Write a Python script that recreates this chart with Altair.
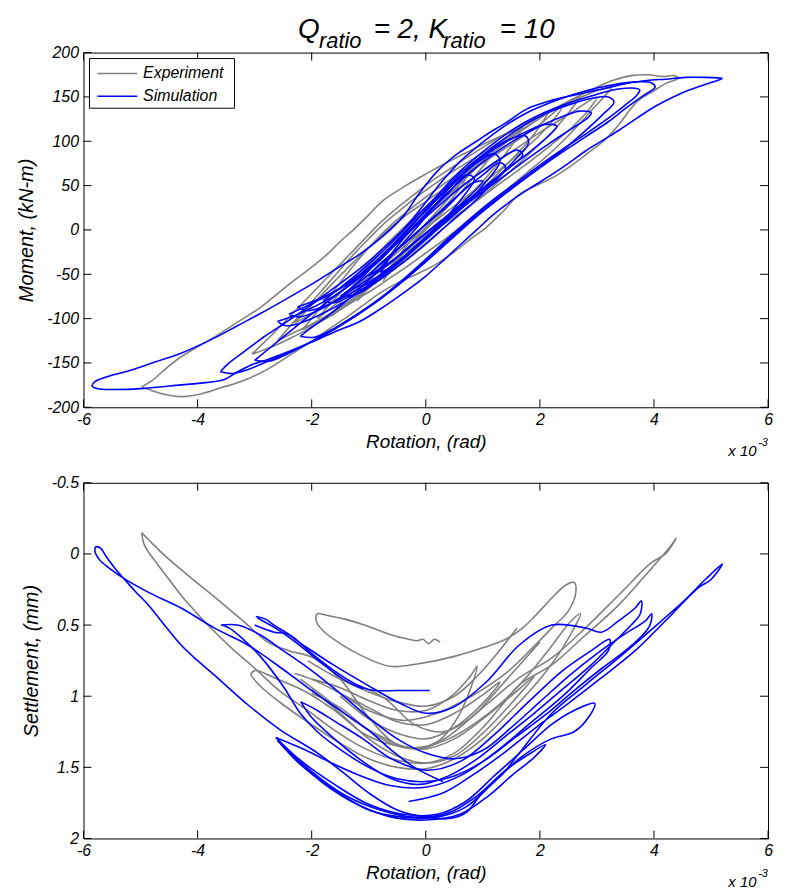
import altair as alt
import pandas as pd

GRAY = "#808080"
BLUE = "#0000FF"
FONT = "Liberation Sans, Arial, Helvetica, sans-serif"

ROT_TICKS = [-6, -4, -2, 0, 2, 4, 6]
MOM_TICKS = [-200, -150, -100, -50, 0, 50, 100, 150, 200]
SET_TICKS = [-0.5, 0, 0.5, 1, 1.5, 2]
SERIES = ["Experiment", "Simulation"]

# ---------------- Moment vs rotation : experiment (rotation x1e-3, moment kN-m)
EXP_M_1 = [(-4.98,-177),(-4.8,-170),(-4.55,-156),(-4.29,-143),(-3.95,-130),(-3.71,-121),(-3.3,-104),(-2.89,-87),(-2.6,-72),(-2.31,-57),(-2.0,-42),(-1.72,-27),(-1.5,-13),(-1.27,0),(-1.0,17),(-0.75,33),(-0.4,48),(0,63),(0.37,76),(0.89,93),(1.25,104),(1.64,115),(2.0,128),(2.35,140),(2.68,151),(3.0,161),(3.3,169),(3.6,174),(3.9,175),(4.15,173),(4.37,174),(4.42,171),(4.2,165),(4.0,157),(3.73,146),(3.55,133),(3.4,120),(3.15,102),(2.95,92),(2.75,82),(2.33,63),(2.0,52),(1.64,40),(1.34,20),(1.06,3),(0.75,-12),(0.47,-26),(0.2,-38),(-0.1,-48),(-0.5,-60),(-0.8,-71),(-1.1,-85),(-1.38,-98),(-1.7,-112),(-1.97,-124),(-2.4,-142),(-2.77,-157),(-3.2,-170),(-3.59,-178),(-3.95,-185),(-4.29,-188),(-4.6,-185),(-4.85,-180),(-4.98,-177)]
EXP_M_2 = [(-3.05,-140),(-2.85,-128),(-2.6,-112),(-2.3,-92),(-2.0,-72),(-1.7,-52),(-1.4,-32),(-1.1,-12),(-0.8,8),(-0.5,25),(-0.2,40),(0.1,55),(0.4,68),(0.8,85),(1.2,101),(1.6,116),(2.0,129),(2.4,141),(2.8,152),(3.05,158),(3.25,160),(3.15,152),(2.95,138),(2.7,120),(2.4,100),(2.1,82),(1.8,66),(1.5,50),(1.2,34),(0.9,18),(0.6,3),(0.3,-12),(0,-26),(-0.3,-40),(-0.6,-53),(-0.9,-66),(-1.2,-78),(-1.5,-90),(-1.8,-102),(-2.1,-113),(-2.4,-123),(-2.7,-132),(-3.05,-140)]
EXP_M_3 = [(-2.6,-125),(-2.4,-110),(-2.15,-92),(-1.9,-74),(-1.6,-52),(-1.3,-30),(-1.0,-10),(-0.7,9),(-0.4,25),(-0.1,40),(0.2,54),(0.5,67),(0.9,83),(1.3,99),(1.7,114),(2.1,130),(2.45,142),(2.7,150),(2.6,140),(2.4,124),(2.15,106),(1.85,88),(1.55,70),(1.25,53),(0.95,36),(0.65,20),(0.35,4),(0.05,-12),(-0.25,-28),(-0.55,-43),(-0.85,-58),(-1.15,-72),(-1.45,-85),(-1.75,-97),(-2.05,-108),(-2.35,-117),(-2.6,-125)]
EXP_M_4 = [(-2.15,-112),(-1.95,-96),(-1.7,-76),(-1.45,-55),(-1.2,-35),(-0.9,-13),(-0.6,6),(-0.3,22),(0,37),(0.3,51),(0.65,67),(1.0,83),(1.35,98),(1.7,113),(2.0,126),(2.15,133),(2.05,122),(1.85,104),(1.6,86),(1.3,66),(1.0,47),(0.7,30),(0.4,13),(0.1,-4),(-0.2,-21),(-0.5,-38),(-0.8,-55),(-1.1,-71),(-1.4,-85),(-1.7,-97),(-1.95,-106),(-2.15,-112)]
EXP_M_5 = [(-1.65,-97),(-1.45,-78),(-1.2,-56),(-0.95,-36),(-0.7,-17),(-0.4,2),(-0.1,20),(0.2,37),(0.5,53),(0.85,71),(1.2,88),(1.5,104),(1.7,117),(1.6,104),(1.4,86),(1.15,66),(0.9,48),(0.6,29),(0.3,11),(0,-7),(-0.3,-25),(-0.6,-43),(-0.9,-60),(-1.2,-75),(-1.45,-87),(-1.65,-97)]
EXP_M_6 = [(-1.2,-80),(-1.0,-60),(-0.75,-38),(-0.5,-18),(-0.2,3),(0.1,22),(0.4,40),(0.7,58),(1.0,78),(1.25,98),(1.1,80),(0.85,60),(0.55,38),(0.25,17),(-0.05,-3),(-0.35,-23),(-0.65,-43),(-0.95,-62),(-1.2,-80)]
EXP_M_7 = [(-0.75,-58),(-0.55,-37),(-0.3,-15),(0,7),(0.3,28),(0.55,48),(0.8,75),(0.65,52),(0.4,31),(0.1,10),(-0.2,-12),(-0.5,-35),(-0.75,-58)]
EXP_M_8 = [(-2.3,-105),(-2.0,-85),(-1.6,-58),(-1.2,-32),(-0.8,-8),(-0.4,14),(0,32),(0.4,50),(0.8,67),(1.2,84),(1.6,101),(2.0,119),(2.4,140),(2.25,125),(1.95,104),(1.6,84),(1.2,63),(0.8,42),(0.4,22),(0,2),(-0.4,-20),(-0.8,-42),(-1.2,-62),(-1.6,-80),(-2.0,-95),(-2.3,-105)]
EXP_M_9 = [(-1.9,-100),(-1.6,-78),(-1.2,-50),(-0.8,-24),(-0.4,0),(0,20),(0.5,44),(1.0,66),(1.5,88),(2.0,110),(2.5,130),(3.0,150),(2.85,135),(2.55,115),(2.2,96),(1.8,76),(1.4,57),(1.0,38),(0.5,15),(0,-8),(-0.5,-32),(-1.0,-56),(-1.5,-80),(-1.9,-100)]

# ---------------- Moment vs rotation : simulation
SIM_M_1 = [(5.2,171),(4.9,172),(4.55,172),(4.2,170),(3.96,169),(3.5,165),(3.1,159),(2.8,155),(2.45,150),(2.1,144),(1.76,136),(1.41,121),(1.1,109),(0.89,100),(0.6,88),(0.4,78),(0.2,66),(0.05,55),(-0.15,38),(-0.4,15),(-0.75,-7),(-1.15,-27),(-1.6,-45),(-2.02,-62),(-2.45,-78),(-2.89,-94),(-3.3,-108),(-3.71,-122),(-4.29,-139),(-4.75,-149),(-5.16,-158),(-5.45,-163),(-5.65,-167),(-5.8,-171),(-5.85,-176),(-5.75,-179),(-5.5,-180),(-5.0,-179),(-4.5,-176),(-4.0,-173),(-3.54,-169),(-3.3,-160),(-3.05,-152),(-2.77,-146),(-2.4,-137),(-2.02,-127),(-1.6,-115),(-1.15,-103),(-0.7,-85),(-0.28,-66),(0,-52),(0.3,-35),(0.6,-17),(0.89,0),(1.2,18),(1.5,33),(1.85,48),(2.2,62),(2.5,75),(2.8,89),(3.1,101),(3.4,113),(3.7,126),(3.96,137),(4.25,147),(4.55,156),(4.85,163),(5.17,170),(5.2,171)]
SIM_M_2 = [(-3.6,-160),(-3.4,-162),(-3.1,-157),(-2.8,-149),(-2.4,-138),(-2.0,-126),(-1.6,-112),(-1.2,-96),(-0.8,-78),(-0.4,-58),(0,-36),(0.4,-13),(0.8,10),(1.2,31),(1.6,51),(2.0,70),(2.4,88),(2.8,105),(3.2,122),(3.5,137),(3.8,151),(4.02,161),(3.95,166),(3.7,167),(3.4,165),(3.0,160),(2.6,153),(2.2,144),(1.8,133),(1.4,118),(1.0,99),(0.6,77),(0.25,52),(-0.05,27),(-0.4,0),(-0.8,-24),(-1.2,-46),(-1.6,-65),(-2.0,-84),(-2.4,-102),(-2.8,-119),(-3.2,-138),(-3.45,-150),(-3.6,-160)]
SIM_M_3 = [(-3.0,-147),(-2.75,-148),(-2.4,-139),(-2.0,-126),(-1.6,-111),(-1.2,-95),(-0.8,-77),(-0.4,-56),(0,-33),(0.4,-9),(0.8,14),(1.2,35),(1.6,54),(2.0,73),(2.4,91),(2.8,108),(3.2,126),(3.5,141),(3.7,152),(3.75,158),(3.6,160),(3.3,158),(2.9,151),(2.5,143),(2.1,133),(1.7,120),(1.3,103),(0.9,83),(0.5,60),(0.15,35),(-0.2,8),(-0.6,-20),(-1.0,-44),(-1.4,-65),(-1.8,-85),(-2.2,-105),(-2.6,-126),(-3.0,-147)]
SIM_M_4 = [(-2.2,-120),(-1.95,-121),(-1.6,-111),(-1.2,-95),(-0.8,-78),(-0.4,-57),(0,-35),(0.4,-11),(0.8,12),(1.2,33),(1.6,52),(2.0,71),(2.4,90),(2.8,112),(3.1,130),(3.3,144),(3.2,150),(2.95,149),(2.6,143),(2.2,134),(1.8,121),(1.4,104),(1.0,84),(0.6,60),(0.25,35),(-0.1,7),(-0.5,-22),(-0.9,-50),(-1.3,-75),(-1.7,-96),(-2.0,-110),(-2.2,-120)]
SIM_M_5 = [(-2.6,-103),(-2.45,-108),(-2.2,-105),(-1.8,-94),(-1.4,-80),(-1.0,-63),(-0.6,-44),(-0.2,-22),(0.2,1),(0.6,23),(1.0,43),(1.4,62),(1.8,81),(2.2,99),(2.6,116),(2.85,127),(2.9,132),(2.7,134),(2.4,128),(2.0,117),(1.6,103),(1.2,86),(0.8,66),(0.4,43),(0,18),(-0.4,-8),(-0.8,-34),(-1.2,-56),(-1.6,-74),(-2.0,-88),(-2.35,-98),(-2.6,-103)]
SIM_M_6 = [(-2.25,-87),(-2.05,-91),(-1.7,-84),(-1.3,-71),(-0.9,-55),(-0.5,-36),(-0.1,-14),(0.3,9),(0.7,31),(1.1,52),(1.5,72),(1.9,92),(2.2,109),(2.3,117),(2.1,119),(1.8,112),(1.4,99),(1.0,82),(0.6,61),(0.2,36),(-0.2,9),(-0.6,-18),(-1.0,-42),(-1.4,-62),(-1.8,-76),(-2.25,-87)]
SIM_M_7 = [(-1.8,-80),(-1.6,-82),(-1.2,-70),(-0.8,-53),(-0.4,-33),(0,-11),(0.4,12),(0.8,34),(1.2,56),(1.55,78),(1.8,98),(1.75,106),(1.5,103),(1.1,89),(0.7,69),(0.3,45),(-0.1,19),(-0.5,-8),(-0.9,-33),(-1.3,-55),(-1.6,-70),(-1.8,-80)]
SIM_M_8 = [(-1.3,-66),(-1.0,-60),(-0.6,-43),(-0.2,-22),(0.2,1),(0.6,24),(1.0,50),(1.3,78),(1.2,86),(0.9,76),(0.5,54),(0.1,28),(-0.3,2),(-0.7,-25),(-1.0,-46),(-1.3,-66)]
SIM_M_9 = [(-0.8,-48),(-0.5,-38),(-0.1,-15),(0.3,10),(0.6,33),(0.85,58),(0.7,62),(0.4,42),(0,17),(-0.4,-10),(-0.8,-48)]
SIM_M_10 = [(-2.4,-95),(-2.2,-98),(-1.8,-88),(-1.4,-72),(-1.0,-55),(-0.6,-36),(-0.2,-15),(0.2,6),(0.6,27),(1.0,47),(1.4,67),(1.7,85),(1.6,90),(1.3,80),(0.9,62),(0.5,42),(0.1,20),(-0.3,-3),(-0.7,-26),(-1.1,-48),(-1.5,-66),(-1.9,-80),(-2.4,-95)]
SIM_M_11 = [(-1.5,-75),(-1.2,-72),(-0.8,-56),(-0.4,-37),(0,-16),(0.4,7),(0.8,29),(1.1,48),(1.4,70),(1.3,76),(1.0,62),(0.6,41),(0.2,18),(-0.2,-5),(-0.6,-28),(-1.0,-50),(-1.5,-75)]
SIM_M_12 = [(-1.0,-52),(-0.6,-35),(-0.2,-14),(0.2,7),(0.6,28),(1.0,55),(0.8,52),(0.4,28),(0,6),(-0.4,-17),(-0.8,-38),(-1.0,-52)]

# ---------------- Settlement vs rotation : experiment (mm)
EXP_S_1 = [(-4.98,-0.15),(-4.93,-0.06),(-4.69,0.08),(-4.5,0.18),(-4.29,0.29),(-4.05,0.4),(-3.82,0.5),(-3.41,0.66),(-3.01,0.8),(-2.54,0.97),(-2.07,1.1),(-1.67,1.22),(-1.2,1.34),(-0.6,1.44),(0,1.47),(0.5,1.4),(1.0,1.22),(1.3,1.08),(1.64,0.92),(2.21,0.78),(2.8,0.57),(3.38,0.36),(3.85,0.15),(4.3,-0.06),(4.39,-0.11),(4.2,0.0),(3.96,0.06),(3.38,0.29),(2.8,0.52),(2.21,0.73),(1.64,0.87),(1.0,1.08),(0.4,1.28),(0,1.36),(-0.5,1.34),(-1.0,1.15),(-1.5,0.88),(-1.97,0.73),(-2.4,0.68),(-2.77,0.62),(-3.12,0.5),(-3.59,0.34),(-4.11,0.17),(-4.58,0.01),(-4.86,-0.1),(-4.98,-0.15)]
EXP_S_2 = [(0.25,0.62),(0.15,0.6),(0.05,0.63),(-0.05,0.6),(-0.15,0.61),(-0.3,0.6),(-0.6,0.57),(-1.0,0.51),(-1.4,0.46),(-1.75,0.43),(-1.9,0.42),(-1.92,0.47),(-1.8,0.54),(-1.5,0.63),(-1.1,0.72),(-0.63,0.79),(-0.1,0.77),(0.5,0.72),(1.0,0.66),(1.4,0.6),(1.7,0.52),(1.93,0.43),(2.21,0.31),(2.45,0.22),(2.6,0.2),(2.63,0.27),(2.5,0.4),(2.21,0.52),(1.87,0.66),(1.4,0.84),(0.8,1.0),(0.2,1.12),(-0.4,1.17),(-1.0,1.1),(-1.5,0.98),(-2.0,0.88),(-2.3,0.84)]
EXP_S_3 = [(-3.07,0.85),(-2.9,0.93),(-2.5,1.06),(-2.0,1.2),(-1.5,1.33),(-1.0,1.44),(-0.5,1.5),(0,1.51),(0.5,1.44),(1.0,1.3),(1.5,1.1),(2.0,0.88),(2.4,0.66),(2.71,0.42),(2.55,0.47),(2.2,0.65),(1.8,0.85),(1.4,1.02),(0.9,1.18),(0.4,1.3),(-0.1,1.36),(-0.6,1.34),(-1.1,1.26),(-1.6,1.1),(-2.1,0.97),(-2.6,0.88),(-3.0,0.82),(-3.07,0.85)]
EXP_S_4 = [(-2.2,0.88),(-1.8,1.0),(-1.3,1.16),(-0.8,1.28),(-0.3,1.36),(0.2,1.32),(0.6,1.12),(0.9,0.79),(0.78,0.86),(0.45,1.0),(0,1.1),(-0.5,1.1),(-1.0,1.03),(-1.5,0.94),(-2.0,0.88)]
EXP_S_5 = [(-2.0,0.95),(-1.5,1.12),(-1.0,1.3),(-0.5,1.42),(0,1.47),(0.5,1.42),(1.0,1.26),(1.5,1.05),(1.9,0.86),(1.55,0.98),(1.0,1.16),(0.5,1.3),(0,1.37),(-0.5,1.35),(-1.0,1.24),(-1.5,1.08),(-2.0,0.98)]
EXP_S_6 = [(-1.5,1.0),(-1.0,1.16),(-0.5,1.26),(0,1.3),(0.5,1.22),(1.0,1.05),(1.3,0.9),(1.0,0.99),(0.5,1.12),(0,1.2),(-0.5,1.18),(-1.0,1.08),(-1.5,0.98)]
EXP_S_7 = [(-2.07,0.75),(-1.6,0.86),(-1.0,0.97),(-0.5,1.04),(0,1.07),(0.5,1.0),(0.9,0.86),(1.25,0.7),(1.6,0.52)]
EXP_S_8 = [(-1.2,0.92),(-0.7,1.02),(-0.2,1.2),(0.3,1.25),(0.8,1.15),(1.2,0.98),(1.6,0.8),(2.0,0.62)]

# ---------------- Settlement vs rotation : simulation
SIM_S_1 = [(0.3,1.6),(-0.2,1.5),(-0.6,1.38),(-1.0,1.24),(-1.5,1.1),(-1.97,0.97),(-2.54,0.8),(-3.12,0.64),(-3.71,0.52),(-4.29,0.38),(-4.86,0.27),(-5.3,0.17),(-5.55,0.1),(-5.72,0.04),(-5.8,-0.02),(-5.78,-0.05),(-5.7,-0.04),(-5.6,0.02),(-5.45,0.1),(-5.3,0.17),(-5.1,0.26),(-4.86,0.36),(-4.6,0.49),(-4.29,0.64),(-4.0,0.75),(-3.71,0.85),(-3.12,1.06),(-2.54,1.24),(-1.97,1.38),(-1.5,1.52),(-1.0,1.68),(-0.5,1.8),(0,1.85),(0.4,1.86),(0.7,1.82),(0.95,1.7),(1.2,1.6),(1.34,1.55),(1.64,1.4),(2.21,1.12),(2.8,0.92),(3.38,0.73),(3.96,0.53),(4.55,0.32),(4.9,0.18),(5.2,0.07),(5.0,0.18),(4.77,0.24),(4.25,0.45),(3.67,0.68),(3.08,0.87),(2.5,1.05),(1.93,1.22),(1.3,1.42),(0.8,1.56),(0.3,1.68),(-0.3,1.74)]
SIM_S_2 = [(-2.98,0.44),(-2.8,0.46),(-2.66,0.5),(-2.31,0.59),(-1.97,0.71),(-1.5,0.85),(-1.1,0.94),(-0.9,0.96),(-0.5,0.96),(-0.1,0.96),(0.07,0.96)]
SIM_S_3 = [(-2.95,0.45),(-2.6,0.53),(-2.25,0.63),(-1.85,0.76),(-1.45,0.88),(-1.1,0.95)]
SIM_S_4 = [(-3.59,0.5),(-3.3,0.5),(-2.9,0.57),(-2.5,0.68),(-2.0,0.82),(-1.5,0.98),(-1.0,1.15),(-0.5,1.3),(0,1.4),(0.5,1.44),(1.0,1.38),(1.5,1.22),(2.0,1.04),(2.5,0.86),(3.0,0.7),(3.5,0.56),(3.85,0.47),(3.96,0.42),(3.93,0.5),(3.8,0.57),(3.5,0.68),(3.1,0.8),(2.6,0.96),(2.1,1.13),(1.6,1.28),(1.0,1.46),(0.5,1.56),(0,1.6),(-0.5,1.58),(-1.0,1.5),(-1.62,1.34),(-1.9,1.25),(-2.2,1.12),(-2.5,0.93),(-2.9,0.72),(-3.2,0.6),(-3.45,0.52),(-3.59,0.5)]
SIM_S_5 = [(-3.0,0.5),(-2.66,0.55),(-2.45,0.56),(-2.19,0.63),(-1.62,0.78),(-1.03,0.92),(-0.45,1.05),(0,1.12),(0.47,1.08),(1.06,0.9),(1.64,0.64),(2.21,0.5),(2.8,0.52),(3.08,0.55),(3.38,0.47),(3.67,0.38),(3.78,0.33),(3.76,0.42),(3.6,0.5),(3.3,0.62),(2.9,0.78),(2.4,0.95),(1.9,1.12),(1.4,1.28),(0.9,1.44),(0.4,1.56),(-0.1,1.62),(-0.6,1.58),(-1.1,1.46),(-1.6,1.3),(-2.0,1.15),(-2.19,1.04)]
SIM_S_6 = [(-2.19,1.04),(-1.9,1.1),(-1.62,1.17),(-1.1,1.3),(-0.6,1.44),(0,1.52),(0.6,1.46),(1.2,1.27),(1.8,1.04),(2.4,0.82),(2.9,0.68),(3.22,0.6),(3.2,0.68),(2.9,0.8),(2.4,1.0),(1.8,1.2),(1.2,1.4),(0.6,1.56),(0,1.64),(-0.6,1.63),(-1.2,1.55),(-1.7,1.46),(-2.1,1.38),(-2.63,1.29)]
SIM_S_7 = [(-2.63,1.29),(-2.2,1.45),(-1.6,1.62),(-1.0,1.76),(-0.4,1.83),(0.2,1.83),(0.7,1.74),(1.2,1.56),(1.7,1.38),(2.2,1.2),(2.6,1.1),(2.96,1.05),(2.85,1.15),(2.6,1.25),(2.2,1.3),(1.7,1.42),(1.2,1.6),(0.7,1.78),(0.2,1.85),(-0.4,1.85),(-1.0,1.8),(-1.6,1.66),(-2.2,1.48),(-2.6,1.31)]
SIM_S_8 = [(-2.6,1.31),(-2.0,1.53),(-1.4,1.7),(-0.8,1.8),(-0.2,1.85),(0.4,1.82),(0.9,1.7),(1.4,1.52),(1.8,1.41),(2.1,1.34),(1.9,1.43),(1.5,1.56),(1.1,1.7),(0.6,1.83),(0,1.87),(-0.6,1.85),(-1.2,1.76),(-1.8,1.61),(-2.3,1.43),(-2.6,1.3)]

EXP_M = [EXP_M_1, EXP_M_2, EXP_M_3, EXP_M_4, EXP_M_5, EXP_M_6, EXP_M_7, EXP_M_8, EXP_M_9]
SIM_M = [SIM_M_1, SIM_M_2, SIM_M_3, SIM_M_4, SIM_M_5, SIM_M_6, SIM_M_7, SIM_M_8,
         SIM_M_9, SIM_M_10, SIM_M_11, SIM_M_12]
EXP_S = [EXP_S_1, EXP_S_2, EXP_S_3, EXP_S_4, EXP_S_5, EXP_S_6, EXP_S_7, EXP_S_8]
SIM_S = [SIM_S_1, SIM_S_2, SIM_S_3, SIM_S_4, SIM_S_5, SIM_S_6, SIM_S_7, SIM_S_8]

W = 689
H1 = 357
H2 = 358
TICK = 8


def frame(curves, ycol):
    rows = []
    for c, pts in enumerate(curves):
        for i, (x, y) in enumerate(pts):
            rows.append({"curve": c, "i": i, "rot": x, ycol: y})
    return pd.DataFrame(rows)


ONE = pd.DataFrame({"k": [0]})


def txt(s, x, y, size, align="left", baseline="alphabetic"):
    return alt.Chart(ONE).mark_text(
        text=s, font=FONT, fontSize=size, fontStyle="italic", align=align,
        baseline=baseline, color="black"
    ).encode(x=alt.value(x), y=alt.value(y))


def panel(exp, sim, ycol, ydomain, yreverse, yticks, ytitle, ytitle_x, H):
    xaxis = alt.Axis(
        values=ROT_TICKS, title="Rotation, (rad)", labelExpr="'' + datum.value",
        ticks=False, tickSize=0, domain=False, grid=False, labelPadding=4,
        labelFlush=False, labelOverlap=False, labelFontSize=16,
        labelFontStyle="italic", labelFont=FONT, labelColor="black",
        titleFont=FONT, titleFontSize=19, titleFontStyle="italic",
        titleFontWeight="normal", titleColor="black", titleY=25,
        titleBaseline="top",
    )
    yaxis = alt.Axis(
        values=yticks, title=ytitle, labelExpr="'' + datum.value",
        ticks=False, tickSize=0, domain=False, grid=False, labelPadding=5,
        labelFlush=False, labelOverlap=False, labelFontSize=16,
        labelFontStyle="italic", labelFont=FONT, labelColor="black",
        titleFont=FONT, titleFontSize=20, titleFontStyle="italic",
        titleFontWeight="normal", titleColor="black", titleX=ytitle_x,
        titleY=H / 2, titleAngle=270, titleAlign="center", titleBaseline="bottom",
    )
    xs = alt.Scale(domain=[-6, 6], nice=False, zero=False)
    ys = alt.Scale(domain=ydomain, nice=False, zero=False, reverse=yreverse)

    def lines(curves, color):
        return alt.Chart(frame(curves, ycol)).mark_line(
            strokeWidth=1.6, clip=True, color=color, interpolate="catmull-rom"
        ).encode(
            x=alt.X("rot:Q", scale=xs, axis=xaxis),
            y=alt.Y(f"{ycol}:Q", scale=ys, axis=yaxis),
            detail="curve:N",
            order="i:Q",
        )

    xt = alt.Chart(pd.DataFrame({"rot": ROT_TICKS}))
    yt = alt.Chart(pd.DataFrame({ycol: yticks}))
    rule = dict(color="black", strokeWidth=1)
    ticks = [
        xt.mark_rule(**rule).encode(x="rot:Q", y=alt.value(H), y2=alt.value(H - TICK)),
        xt.mark_rule(**rule).encode(x="rot:Q", y=alt.value(0), y2=alt.value(TICK)),
        yt.mark_rule(**rule).encode(y=f"{ycol}:Q", x=alt.value(0), x2=alt.value(TICK)),
        yt.mark_rule(**rule).encode(y=f"{ycol}:Q", x=alt.value(W - TICK), x2=alt.value(W)),
    ]
    layers = [lines(exp, GRAY), lines(sim, BLUE)] + ticks
    layers += [txt("x 10", 649, H + 49, 15), txt("-3", 679, H + 39, 11)]
    return layers


top_layers = panel(EXP_M, SIM_M, "mom", [-200, 200], False, MOM_TICKS,
                   "Moment, (kN-m)", -47, H1)

# legend box (drawn as a framed inset like the original)
legend_layers = [
    alt.Chart(ONE).mark_rect(fill="white", stroke="black", strokeWidth=1).encode(
        x=alt.value(6), x2=alt.value(152), y=alt.value(6), y2=alt.value(56)),
    alt.Chart(ONE).mark_rule(color=GRAY, strokeWidth=1.6).encode(
        x=alt.value(14), x2=alt.value(54), y=alt.value(21)),
    alt.Chart(ONE).mark_rule(color=BLUE, strokeWidth=1.6).encode(
        x=alt.value(14), x2=alt.value(54), y=alt.value(44)),
    txt(SERIES[0], 60, 21, 16, baseline="middle"),
    txt(SERIES[1], 60, 44, 16, baseline="middle"),
]

title_layers = [
    txt("Q", 216, -15, 28),
    txt("ratio", 237, -5, 22),
    txt("= 2, K", 292, -15, 28),
    txt("ratio", 362, -5, 22),
    txt("= 10", 419, -15, 28),
]

top = alt.layer(*(top_layers + legend_layers + title_layers)).properties(width=W, height=H1)

bottom_layers = panel(EXP_S, SIM_S, "set", [-0.5, 2], True, SET_TICKS,
                      "Settlement, (mm)", -42, H2)
bottom = alt.layer(*bottom_layers).properties(width=W, height=H2)

chart = alt.vconcat(top, bottom, spacing=76, bounds="flush").properties(
    padding={"left": 8, "top": 4, "right": 5, "bottom": 0}
).configure_view(stroke="black", strokeWidth=1)

chart.save("out.html", embed_options={"renderer": "svg", "actions": False})
